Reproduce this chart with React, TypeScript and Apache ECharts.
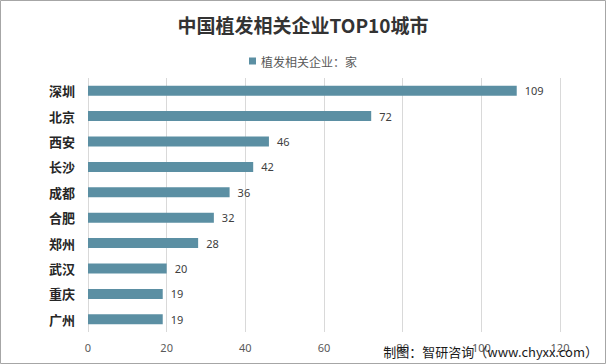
import React, { useEffect, useRef } from "react";
import * as echarts from "echarts";

const cities = ["深圳", "北京", "西安", "长沙", "成都", "合肥", "郑州", "武汉", "重庆", "广州"];
const counts = [109, 72, 46, 42, 36, 32, 28, 20, 19, 19];
const seriesName = "植发相关企业：家";
const titleText = "中国植发相关企业TOP10城市";
const sourceText = "制图：智研咨询（www.chyxx.com）";

export default function App() {
  const ref = useRef<HTMLDivElement>(null);
  useEffect(() => {
    const chart = echarts.init(ref.current!, null, { renderer: "svg" });
    chart.setOption({
      animation: false,
      backgroundColor: "#ffffff",
      title: {
        text: titleText,
        left: "center",
        top: 10,
        textStyle: { fontSize: 19, fontWeight: "bold", color: "#333333", fontFamily: "Noto Sans CJK SC" },
      },
      legend: {
        top: 50,
        left: "center",
        itemWidth: 7,
        itemHeight: 7,
        icon: "rect",
        textStyle: { fontSize: 12, color: "#595959", fontFamily: "Noto Sans CJK SC" },
        data: [seriesName],
      },
      grid: { left: 88, right: 46, top: 78, bottom: 32 },
      xAxis: {
        type: "value",
        min: 0,
        max: 120,
        interval: 20,
        axisLine: { show: false },
        axisTick: { show: false },
        splitLine: { lineStyle: { color: "#d9d9d9" } },
        axisLabel: { fontSize: 11, color: "#595959", margin: 10, fontFamily: "Noto Sans" },
      },
      yAxis: {
        type: "category",
        inverse: true,
        data: cities,
        axisLine: { show: false },
        axisTick: { show: false },
        axisLabel: { fontSize: 13, fontWeight: "bold", color: "#262626", margin: 13, fontFamily: "Noto Sans CJK SC" },
      },
      series: [
        {
          name: seriesName,
          type: "bar",
          data: counts,
          barWidth: 10,
          itemStyle: { color: "#5b8fa3" },
          label: { show: true, position: "right", distance: 8, fontSize: 11, color: "#404040", fontFamily: "Noto Sans" },
        },
      ],
      graphic: [
        {
          type: "rect",
          shape: { x: 0.5, y: 0.5, width: 605, height: 363 },
          style: { fill: "none", stroke: "#a6a6a6", lineWidth: 1 },
          silent: true,
        },
        {
          type: "text",
          right: 8,
          bottom: 6,
          style: { text: sourceText, fontSize: 13, fill: "#1a1a1a", fontFamily: "Noto Sans CJK SC" },
          z: 10,
        },
      ],
    });
    return () => chart.dispose();
  }, []);
  return <div ref={ref} style={{ position: "fixed", left: 0, top: 0, width: 606, height: 364 }} />;
}
